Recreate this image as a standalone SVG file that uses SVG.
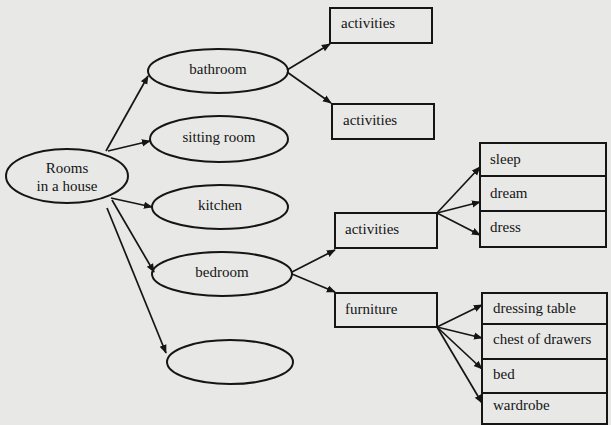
<svg xmlns="http://www.w3.org/2000/svg" width="611" height="425" viewBox="0 0 611 425">
<defs>
<marker id="ah" viewBox="0 0 10 10" refX="9" refY="5" markerWidth="9" markerHeight="9" markerUnits="userSpaceOnUse" orient="auto">
<path d="M0,1 L10,5 L0,9 z" fill="#151515"/>
</marker>
<style>
.bg{fill:#e8e8e6}
.n{fill:none;stroke:#151515;stroke-width:2}
.t{font-family:'Liberation Serif','DejaVu Serif',serif;font-size:15px;fill:#151515}
.c{text-anchor:middle}
.e{fill:none;stroke:#151515;stroke-width:1.7;marker-end:url(#ah)}
</style>
</defs>
<rect class="bg" x="0" y="0" width="611" height="425"/>
<g id="connectors">
<line class="e" x1="106" y1="151" x2="148" y2="76"/>
<line class="e" x1="108" y1="151" x2="150" y2="141"/>
<line class="e" x1="111" y1="198" x2="152" y2="207"/>
<line class="e" x1="112" y1="200" x2="154" y2="272"/>
<line class="e" x1="107" y1="208" x2="166" y2="353"/>
<line class="e" x1="287" y1="70" x2="330" y2="44"/>
<line class="e" x1="287" y1="72" x2="331" y2="103"/>
<line class="e" x1="292" y1="272" x2="335" y2="250"/>
<line class="e" x1="292" y1="274" x2="335" y2="292"/>
<line class="e" x1="437" y1="213" x2="480" y2="167"/>
<line class="e" x1="437" y1="213" x2="480" y2="202"/>
<line class="e" x1="437" y1="213" x2="480" y2="235"/>
<line class="e" x1="437" y1="327" x2="482" y2="305"/>
<line class="e" x1="437" y1="327" x2="482" y2="338"/>
<line class="e" x1="437" y1="327" x2="482" y2="369"/>
<line class="e" x1="437" y1="327" x2="482" y2="403"/>
</g>
<g id="rooms">
<ellipse class="n" cx="67" cy="176" rx="61" ry="27"/>
<text class="t c" x="67" y="173" font-family="Liberation Serif, serif">Rooms</text>
<text class="t c" x="67" y="191" font-family="Liberation Serif, serif">in a house</text>
</g>
<g id="bathroom">
<ellipse class="n" cx="218" cy="71" rx="70" ry="22"/>
<text class="t c" x="218" y="74">bathroom</text>
</g>
<g id="sitting-room">
<ellipse class="n" cx="219" cy="139" rx="69" ry="23"/>
<text class="t c" x="219" y="142">sitting room</text>
</g>
<g id="kitchen">
<ellipse class="n" cx="220" cy="207" rx="68" ry="22"/>
<text class="t c" x="220" y="210">kitchen</text>
</g>
<g id="bedroom">
<ellipse class="n" cx="222" cy="274" rx="70" ry="22"/>
<text class="t c" x="222" y="277">bedroom</text>
</g>
<g id="empty">
<ellipse class="n" cx="230" cy="362" rx="63" ry="22"/>
</g>
<g id="bath-activities-1">
<rect class="n" x="330" y="8" width="102" height="35"/>
<text class="t" x="341" y="28">activities</text>
</g>
<g id="bath-activities-2">
<rect class="n" x="332" y="104" width="102" height="35"/>
<text class="t" x="343" y="125">activities</text>
</g>
<g id="bed-activities">
<rect class="n" x="335" y="213" width="102" height="35"/>
<text class="t" x="345" y="234">activities</text>
</g>
<g id="furniture">
<rect class="n" x="335" y="293" width="102" height="34"/>
<text class="t" x="345" y="314">furniture</text>
</g>
<g id="sleep">
<rect class="n" x="480" y="143" width="126" height="33"/>
<text class="t" x="490" y="164">sleep</text>
</g>
<g id="dream">
<rect class="n" x="480" y="176" width="126" height="35"/>
<text class="t" x="490" y="198">dream</text>
</g>
<g id="dress">
<rect class="n" x="480" y="211" width="126" height="36"/>
<text class="t" x="490" y="232">dress</text>
</g>
<g id="dressing-table">
<rect class="n" x="482" y="293" width="125" height="31"/>
<text class="t" x="493" y="313">dressing table</text>
</g>
<g id="chest-of-drawers">
<rect class="n" x="482" y="324" width="125" height="35"/>
<text class="t" x="493" y="344">chest of drawers</text>
</g>
<g id="bed">
<rect class="n" x="482" y="359" width="125" height="34"/>
<text class="t" x="493" y="379">bed</text>
</g>
<g id="wardrobe">
<rect class="n" x="482" y="393" width="125" height="31"/>
<text class="t" x="493" y="410">wardrobe</text>
</g>
</svg>
